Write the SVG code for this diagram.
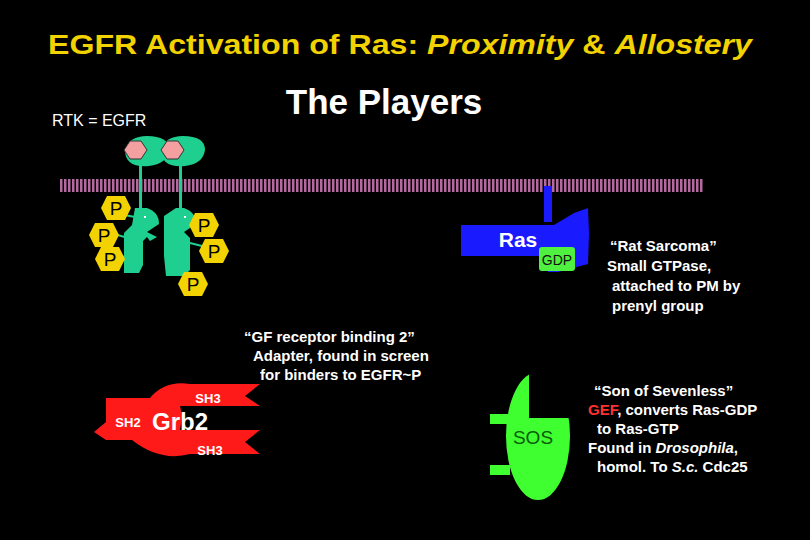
<svg xmlns="http://www.w3.org/2000/svg" width="810" height="540" viewBox="0 0 810 540">
<defs>
<pattern id="mem" width="4" height="13" patternUnits="userSpaceOnUse"><rect width="2.5" height="13" fill="#b46aa0"/></pattern>
<g id="ph"><polygon points="-9,-12 9,-12 15,0 9,12 -9,12 -15,0" fill="#f2d200"/><text y="7" text-anchor="middle" class="pt">P</text></g>
</defs>
<style>
text{font-family:"Liberation Sans",Arial,sans-serif}
.w{fill:#fff;font-weight:bold}
.pt{font-size:19px;fill:#000}
.rec{fill:#1fcf8f}
.grb{fill:#ff1a1a}
</style>
<rect width="810" height="540" fill="#000"/>
<text x="400" y="54" text-anchor="middle" font-size="28" font-weight="bold" fill="#f2d200" textLength="704" lengthAdjust="spacingAndGlyphs">EGFR Activation of Ras: <tspan font-style="italic">Proximity</tspan> &amp; <tspan font-style="italic">Allostery</tspan></text>
<text x="384" y="114" text-anchor="middle" font-size="35" class="w">The Players</text>
<text x="52" y="126" font-size="16" fill="#fff">RTK = EGFR</text>
<rect x="60" y="179" width="644" height="13" fill="url(#mem)"/>
<g id="egfr1">
<path class="rec" d="M125,150 q4,-14 22,-14 q22,0 22,14 q-2,14 -20,16 q-24,2 -24,-16z"/>
<polygon points="124,150 130,141 141,141 147,150 141,159 130,159" fill="#f4a0a0" stroke="#333" stroke-width="1"/>
<rect x="139" y="165" width="3" height="45" class="rec"/>
<path class="rec" d="M135,208 h12 q12,4 12,16 l-12,8 l10,5 l-7,4 l-3,-4 l-4,4 v24 l-4,8 h-15 v-40 l8,-8 z"/>
<line x1="114" y1="213" x2="135" y2="217" stroke="#1fcf8f" stroke-width="2"/>
<line x1="107" y1="232" x2="128" y2="238" stroke="#1fcf8f" stroke-width="2"/>
<line x1="110" y1="256" x2="128" y2="257" stroke="#1fcf8f" stroke-width="2"/>
<rect x="144" y="216" width="2" height="2" fill="#fff"/>
<use href="#ph" x="116" y="208"/><use href="#ph" x="104" y="235"/><use href="#ph" x="110" y="259"/>
</g>
<g id="egfr2">
<path class="rec" d="M161,150 q4,-14 22,-14 q22,0 22,14 q-2,14 -20,16 q-24,2 -24,-16z"/>
<polygon points="161,150 167,141 178,141 184,150 178,159 167,159" fill="#f4a0a0" stroke="#333" stroke-width="1"/>
<rect x="179" y="165" width="3" height="45" class="rec"/>
<path class="rec" d="M176,208 h8 q12,4 12,16 l-12,8 l6,6 v32 l-6,6 h-18 l-2,-20 v-40 z"/>
<line x1="192" y1="225" x2="205" y2="224" stroke="#1fcf8f" stroke-width="2"/>
<line x1="190" y1="243" x2="210" y2="248" stroke="#1fcf8f" stroke-width="2"/>
<line x1="186" y1="274" x2="190" y2="282" stroke="#1fcf8f" stroke-width="2"/>
<rect x="184" y="216" width="2" height="2" fill="#fff"/>
<use href="#ph" x="204" y="225"/><use href="#ph" x="214" y="251"/><use href="#ph" x="193" y="284"/>
</g>
<g id="ras">
<rect x="544" y="186" width="8" height="36" fill="#1a1aff"/>
<path d="M461,225 h93 l20,-12 l14,-5 l1,26 l-1,30 l-30,8 h-10 l-1,-16 h-86 z" fill="#1a1aff"/>
<text x="518" y="247" text-anchor="middle" font-size="21" class="w">Ras</text>
<rect x="539" y="247" width="36" height="24" rx="3" fill="#50f040"/>
<text x="557" y="265" text-anchor="middle" font-size="14" fill="#111">GDP</text>
</g>
<text font-size="15" class="w"><tspan x="610" y="251">“Rat Sarcoma”</tspan><tspan x="607" y="271">Small GTPase,</tspan><tspan x="612" y="291">attached to PM by</tspan><tspan x="612" y="311">prenyl group</tspan></text>
<text font-size="15" class="w"><tspan x="244" y="342">“GF receptor binding 2”</tspan><tspan x="253" y="361">Adapter, found in screen</tspan><tspan x="260" y="380">for binders to EGFR~P</tspan></text>
<g id="grb2">
<path class="grb" d="M106,398 h44 q15,-18 40,-14 h70 l-15,12 l15,10 h-80 q3,10 0,24 h80 l-15,12 l15,12 h-70 q-30,8 -58,-14 l-26,0 l-12,-8 l12,-10 z"/>
<text x="208" y="403" text-anchor="middle" font-size="13" class="w">SH3</text>
<text x="128" y="427" text-anchor="middle" font-size="13" class="w">SH2</text>
<text x="180" y="430" text-anchor="middle" font-size="24" class="w">Grb2</text>
<text x="210" y="455" text-anchor="middle" font-size="13" class="w">SH3</text>
</g>
<g id="sos">
<ellipse cx="538" cy="436" rx="32" ry="64" fill="#40ff30"/>
<rect x="529" y="370" width="45" height="48" fill="#000"/>
<rect x="490" y="414" width="20" height="10" fill="#40ff30"/>
<rect x="490" y="465" width="20" height="10" fill="#40ff30"/>
<text x="533" y="444" text-anchor="middle" font-size="19" fill="#0a5a0a">SOS</text>
</g>
<text font-size="15" class="w"><tspan x="594" y="396">“Son of Sevenless”</tspan><tspan x="588" y="415"><tspan fill="#ff3030">GEF</tspan>, converts Ras-GDP</tspan><tspan x="597" y="434">to Ras-GTP</tspan><tspan x="588" y="453">Found in <tspan font-style="italic">Drosophila</tspan>,</tspan><tspan x="597" y="472">homol. To <tspan font-style="italic">S.c.</tspan> Cdc25</tspan></text>
<g id="connectors"/>
</svg>
